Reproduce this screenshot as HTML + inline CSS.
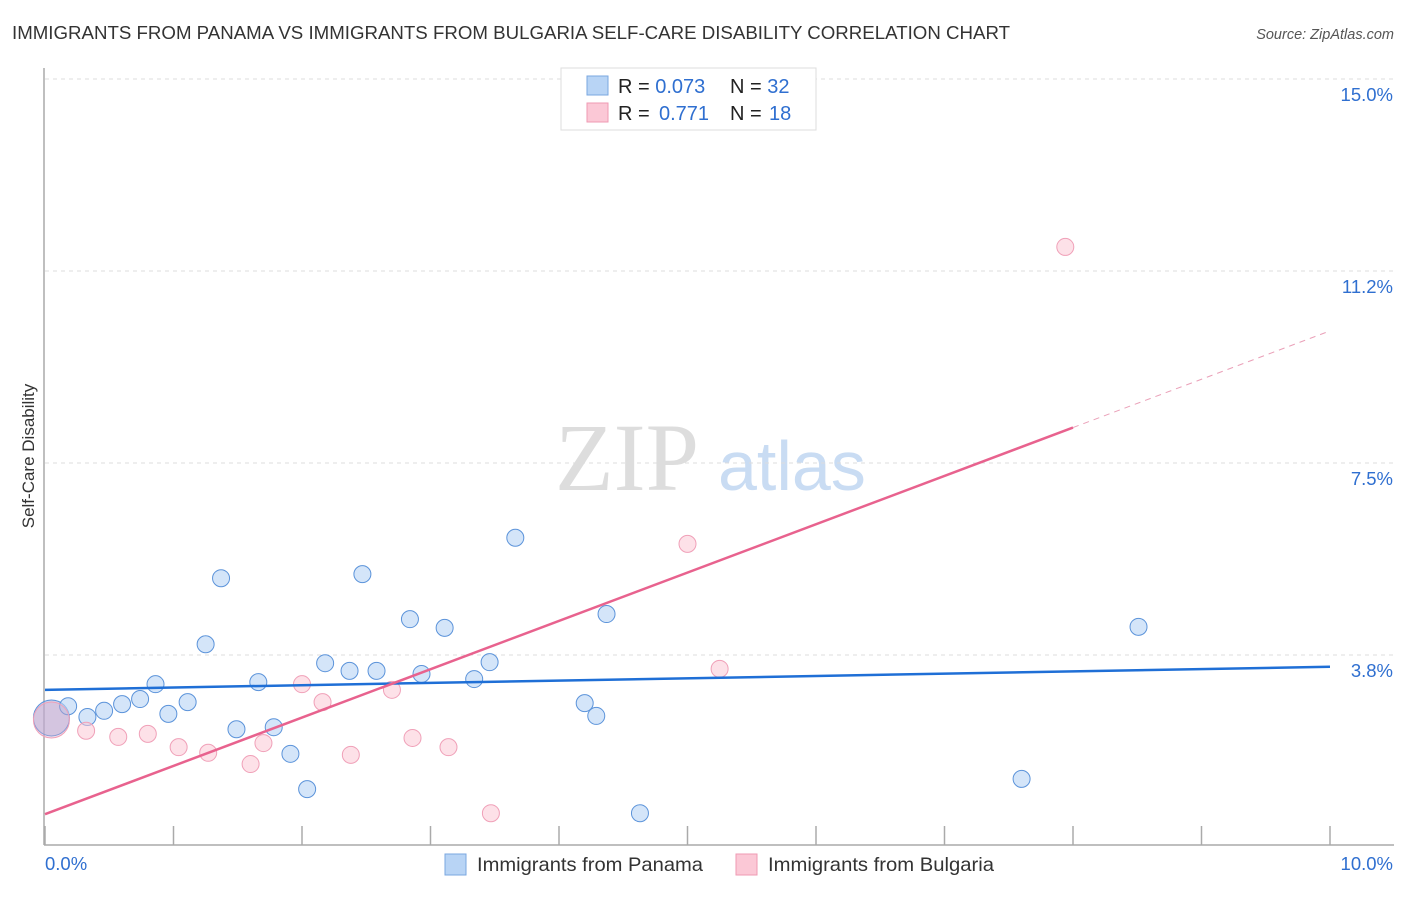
<!DOCTYPE html>
<html><head><meta charset="utf-8"><style>
body{margin:0;background:#fff;font-family:"Liberation Sans",sans-serif}
svg text{font-family:"Liberation Sans",sans-serif}
</style></head><body>
<svg width="1406" height="892" xmlns="http://www.w3.org/2000/svg">
<text x="12" y="39" font-size="18" fill="#333" textLength="998" lengthAdjust="spacingAndGlyphs">IMMIGRANTS FROM PANAMA VS IMMIGRANTS FROM BULGARIA SELF-CARE DISABILITY CORRELATION CHART</text>
<text x="1394" y="39" font-size="14.5" fill="#555" text-anchor="end" font-style="italic">Source: ZipAtlas.com</text>
<text x="555" y="490" font-size="96" fill="#ddd" font-family="Liberation Serif" style="font-family:'Liberation Serif',serif">ZIP</text>
<text x="718" y="490" font-size="70" fill="#c9dcf3">atlas</text>
<g id="grid"></g><g id="axes"></g><g id="marks"></g>
<text transform="translate(34,456) rotate(-90)" font-size="17" fill="#333" text-anchor="middle">Self-Care Disability</text>
<g>
<rect x="561" y="68" width="255" height="62" fill="#fff" stroke="#ddd"/>
<rect x="587" y="76" width="21" height="19" fill="#b8d4f5" stroke="#7aa7e0"/>
<rect x="587" y="103" width="21" height="19" fill="#fbc8d6" stroke="#ef9ab3"/>
<text x="618" y="93" font-size="20" fill="#222">R = <tspan fill="#2f6fd0">0.073</tspan><tspan x="730">N = </tspan><tspan fill="#2f6fd0">32</tspan></text>
<text x="618" y="120" font-size="20" fill="#222">R = <tspan fill="#2f6fd0" x="659">0.771</tspan><tspan x="730">N = </tspan><tspan fill="#2f6fd0" x="769">18</tspan></text>
</g>
<g>
<rect x="445" y="854" width="21" height="21" fill="#b8d4f5" stroke="#7aa7e0"/>
<text x="477" y="871" font-size="19.5" fill="#333" textLength="226" lengthAdjust="spacingAndGlyphs">Immigrants from Panama</text>
<rect x="736" y="854" width="21" height="21" fill="#fbc8d6" stroke="#ef9ab3"/>
<text x="768" y="871" font-size="19.5" fill="#333" textLength="226" lengthAdjust="spacingAndGlyphs">Immigrants from Bulgaria</text>
</g>
</svg>
<script>
const xTicks=[0,1,2,3,4,5,6,7,8,9,10];
const yTicks=[3.75,7.5,11.25,15];
const yTickLabels=["3.8%","7.5%","11.2%","15.0%"];
const panamaX=[0.05,0.18,0.33,0.46,0.60,0.74,0.86,0.96,1.11,1.25,1.37,1.49,1.66,1.78,1.91,2.04,2.18,2.37,2.47,2.58,2.84,2.93,3.11,3.34,3.46,3.66,4.20,4.29,4.37,4.63,7.60,8.51];
const panamaY=[2.52,2.75,2.54,2.66,2.79,2.89,3.18,2.60,2.83,3.96,5.25,2.30,3.22,2.34,1.82,1.13,3.59,3.44,5.33,3.44,4.45,3.38,4.28,3.28,3.61,6.04,2.81,2.56,4.55,0.66,1.33,4.30];
const bulgariaX=[0.05,0.32,0.57,0.80,1.04,1.27,1.60,1.70,2.00,2.16,2.38,2.70,2.86,3.14,3.47,5.00,5.25,7.94];
const bulgariaY=[2.48,2.27,2.15,2.21,1.95,1.84,1.62,2.03,3.18,2.83,1.80,3.07,2.13,1.95,0.66,5.92,3.48,11.72];
const panamaTrend=[3.07,3.52];
const bulgariaTrend=[0.64,10.08];
const sx=v=>45+v*128.5, sy=v=>847-v*51.2;
const NS="http://www.w3.org/2000/svg";
function mk(t,a,p){const e=document.createElementNS(NS,t);for(const k in a)e.setAttribute(k,a[k]);p.appendChild(e);return e;}
const grid=document.getElementById('grid'),axes=document.getElementById('axes'),marks=document.getElementById('marks');
yTicks.forEach((v,i)=>{
 const l=mk('line',{x1:45,x2:1394,y1:sy(v),y2:sy(v),stroke:'#ddd','stroke-dasharray':'4,4'},grid);
 
 
 const t=mk('text',{x:1393,y:sy(v)+22,'font-size':18.5,fill:'#2f6fd0','text-anchor':'end'},axes);t.textContent=yTickLabels[i];
 
 
});
const ax=mk('line',{x1:44,x2:44,y1:68,y2:845,stroke:'#aaa','stroke-width':1.5},axes);


const bx=mk('line',{x1:44,x2:1394,y1:845,y2:845,stroke:'#aaa','stroke-width':1.5},axes);


xTicks.forEach(v=>{const t=mk('line',{x1:sx(v),x2:sx(v),y1:826,y2:845,stroke:'#aaa','stroke-width':1.5},axes);
 
 });
[[0,"0.0%",'start',45],[10,"10.0%",'end',1393]].forEach(a=>{const t=mk('text',{x:a[3],y:870,'font-size':18.5,fill:'#2f6fd0','text-anchor':a[2]},axes);t.textContent=a[1];
 
 });
panamaX.forEach((x,i)=>{const c=mk('circle',{cx:sx(x),cy:sy(panamaY[i]),r:i==0?18:8.5,fill:i==0?'rgba(160,170,220,0.5)':'rgba(184,212,245,0.6)',stroke:'#5b93da','stroke-width':1},marks);
 
 });
bulgariaX.forEach((x,i)=>{const c=mk('circle',{cx:sx(x),cy:sy(bulgariaY[i]),r:i==0?18:8.5,fill:i==0?'rgba(220,170,200,0.35)':'rgba(251,200,214,0.55)',stroke:'#f0a0b8','stroke-width':1},marks);
 
 });
const pl=mk('line',{x1:sx(0),y1:sy(panamaTrend[0]),x2:sx(10),y2:sy(panamaTrend[1]),stroke:'#1f6fd6','stroke-width':2.5},marks);


const by=x=>bulgariaTrend[0]+(bulgariaTrend[1]-bulgariaTrend[0])*x/10;
const bl=mk('line',{x1:sx(0),y1:sy(by(0)),x2:sx(8),y2:sy(by(8)),stroke:'#e8628e','stroke-width':2.5},marks);


const bd=mk('line',{x1:sx(8),y1:sy(by(8)),x2:sx(10),y2:sy(by(10)),stroke:'#eaa0b8','stroke-width':1,'stroke-dasharray':'6,5'},marks);


</script>
</body></html>
